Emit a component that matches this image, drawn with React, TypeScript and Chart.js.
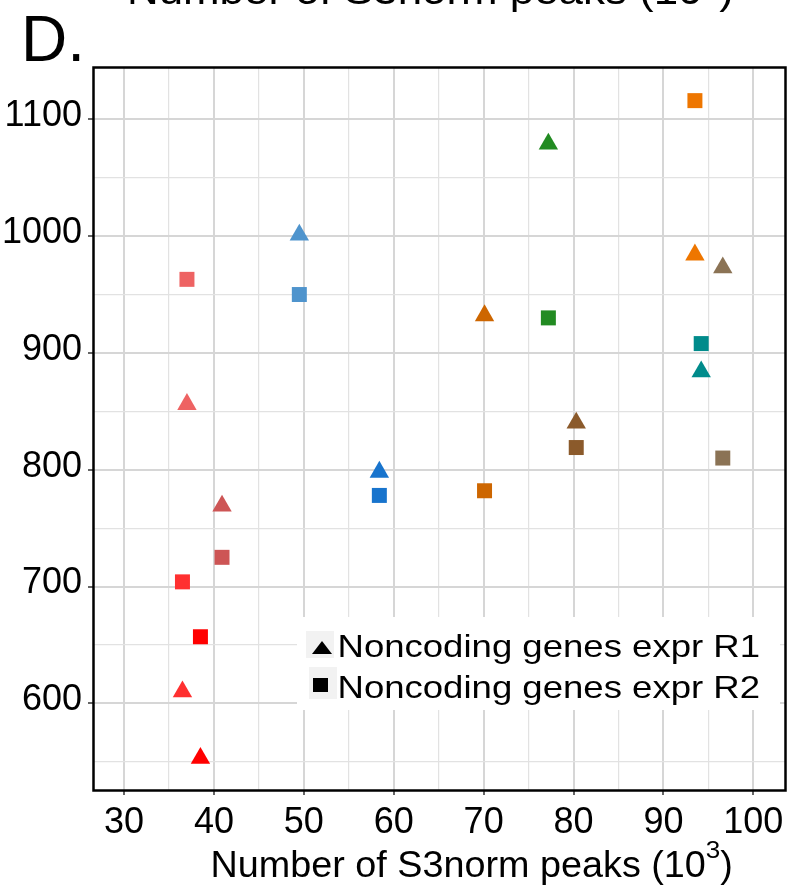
import React, { useEffect, useRef } from 'react';
import { Chart, registerables } from 'chart.js';

Chart.register(...registerables);

// ---- Data ----
const cellColors = ['#EE6363', '#CD5555', '#FF3030', '#FF0000', '#4F94CD', '#1874CD', '#CD6600', '#228B22', '#8B5A2B', '#EE7600', '#8B7355', '#008B8B'];
const peaksX = [37.0, 40.9, 36.5, 38.5, 49.5, 58.4, 70.1, 77.2, 80.3, 93.5, 96.6, 94.2];
const exprR1 = [856, 769, 610, 553, 1001, 798, 932, 1079, 840, 984, 973, 884];
const exprR2 = [963, 725, 704, 657, 950, 778, 782, 930, 819, 1116, 810, 908];

const seriesLabels = ['Noncoding genes expr R1', 'Noncoding genes expr R2'];

const xMajorTicks = [30, 40, 50, 60, 70, 80, 90, 100];
const xMinorTicks = [35, 45, 55, 65, 75, 85, 95];
const yMajorTicks = [600, 700, 800, 900, 1000, 1100];
const yMinorTicks = [550, 650, 750, 850, 950, 1050];

const titleMain = 'Number of S3norm peaks (10';
const titleSup = '3';
const titleEnd = ')';
const panelLetter = 'D.';

const FONT = "'Liberation Sans', Arial, Helvetica, sans-serif";

function drawTitle(ctx: CanvasRenderingContext2D, x: number, baseline: number, size: number, sx: number) {
  ctx.save();
  ctx.translate(x, baseline);
  ctx.scale(sx, 1);
  ctx.fillStyle = '#000';
  ctx.textBaseline = 'alphabetic';
  ctx.textAlign = 'left';
  ctx.font = `${size}px ${FONT}`;
  ctx.fillText(titleMain, 0, 0);
  let cx = ctx.measureText(titleMain).width;
  const supSize = size * 0.69;
  ctx.font = `${supSize}px ${FONT}`;
  ctx.fillText(titleSup, cx, -size * 0.53);
  cx += ctx.measureText(titleSup).width;
  ctx.font = `${size}px ${FONT}`;
  ctx.fillText(titleEnd, cx, 0);
  ctx.restore();
}

const decorPlugin = {
  id: 'decor',
  afterDatasetsDraw(chart: any) {
    const ctx: CanvasRenderingContext2D = chart.ctx;
    // legend box
    ctx.save();
    ctx.fillStyle = '#ffffff';
    ctx.fillRect(297, 617, 483, 93);
    ctx.fillStyle = '#f2f2f2';
    ctx.fillRect(306, 631, 28, 27);
    ctx.fillRect(309, 667, 28, 32);
    ctx.fillStyle = '#000';
    ctx.beginPath();
    ctx.moveTo(312, 654);
    ctx.lineTo(332, 654);
    ctx.lineTo(322, 641);
    ctx.closePath();
    ctx.fill();
    ctx.fillRect(313, 678, 15, 14);
    const labels = chart.data.datasets.map((d: any) => d.label);
    const baselines = [657, 698];
    labels.forEach((lab: string, i: number) => {
      ctx.save();
      ctx.translate(337.5, baselines[i]);
      ctx.scale(1.16, 1);
      ctx.font = `31.5px ${FONT}`;
      ctx.textBaseline = 'alphabetic';
      ctx.fillStyle = '#000';
      ctx.fillText(lab, 0, 0);
      ctx.restore();
    });
    ctx.restore();
  },
  afterDraw(chart: any) {
    const ctx: CanvasRenderingContext2D = chart.ctx;
    const { left, top, right, bottom } = chart.chartArea;
    ctx.save();
    ctx.strokeStyle = '#000';
    ctx.lineWidth = 2.5;
    ctx.strokeRect(left + 0.5, top + 0.5, right - left, bottom - top);
    // x-axis title
    drawTitle(ctx, 210.5, 877, 36, 1.049);
    // cropped title from panel above
    drawTitle(ctx, 127, 3.5, 41, 1.07);
    // panel letter
    ctx.font = `64px ${FONT}`;
    ctx.fillStyle = '#000';
    ctx.textBaseline = 'alphabetic';
    ctx.fillText(panelLetter, 21, 61);
    ctx.restore();
  },
};

const isMajorX = (v: number) => xMajorTicks.includes(v);
const isMajorY = (v: number) => yMajorTicks.includes(v);

export default function App() {
  const ref = useRef<HTMLCanvasElement>(null);
  useEffect(() => {
    if (!ref.current) return;
    const chart = new Chart(ref.current, {
      type: 'scatter',
      data: {
        datasets: [
          {
            label: seriesLabels[0],
            data: peaksX.map((x, i) => ({ x, y: exprR1[i] })),
            pointStyle: 'triangle',
            pointRadius: 11.2,
            pointHoverRadius: 11.2,
            borderWidth: 0,
            backgroundColor: cellColors,
            borderColor: cellColors,
          },
          {
            label: seriesLabels[1],
            data: peaksX.map((x, i) => ({ x, y: exprR2[i] })),
            pointStyle: 'rect',
            pointRadius: 10.6,
            pointHoverRadius: 10.6,
            borderWidth: 0,
            backgroundColor: cellColors,
            borderColor: cellColors,
          },
        ],
      },
      options: {
        animation: false,
        responsive: false,
        devicePixelRatio: 1,
        layout: { padding: { left: 0, top: 67, right: 15, bottom: 0 } },
        plugins: { legend: { display: false }, tooltip: { enabled: false } },
        scales: {
          x: {
            type: 'linear',
            min: 26.55,
            max: 103.52,
            afterBuildTicks: (s: any) => {
              s.ticks = [...xMajorTicks, ...xMinorTicks].sort((a, b) => a - b).map((v) => ({ value: v }));
            },
            afterFit: (s: any) => {
              s.height = 96;
            },
            border: { display: false },
            grid: {
              color: (c: any) => (c.tick && isMajorX(c.tick.value) ? '#d6d6d6' : '#e2e2e2'),
              lineWidth: (c: any) => (c.tick && isMajorX(c.tick.value) ? 2 : 1.2),
              drawTicks: true,
              tickLength: 5,
              tickColor: (c: any) => (c.tick && isMajorX(c.tick.value) ? '#333' : 'rgba(0,0,0,0)'),
              tickWidth: 1.5,
            },
            ticks: {
              autoSkip: false,
              maxRotation: 0,
              padding: 6,
              color: '#000',
              font: { size: 36, family: FONT },
              callback: (v: any) => (isMajorX(Number(v)) ? String(v) : ''),
            },
          },
          y: {
            type: 'linear',
            min: 525.8,
            max: 1144.8,
            afterBuildTicks: (s: any) => {
              s.ticks = [...yMajorTicks, ...yMinorTicks].sort((a, b) => a - b).map((v) => ({ value: v }));
            },
            afterFit: (s: any) => {
              s.width = 93;
            },
            border: { display: false },
            grid: {
              color: (c: any) => (c.tick && isMajorY(c.tick.value) ? '#d6d6d6' : '#e2e2e2'),
              lineWidth: (c: any) => (c.tick && isMajorY(c.tick.value) ? 2 : 1.2),
              drawTicks: true,
              tickLength: 5,
              tickColor: (c: any) => (c.tick && isMajorY(c.tick.value) ? '#333' : 'rgba(0,0,0,0)'),
              tickWidth: 1.5,
            },
            ticks: {
              autoSkip: false,
              padding: 6,
              labelOffset: -3,
              color: '#000',
              font: { size: 36, family: FONT },
              callback: (v: any) => (isMajorY(Number(v)) ? String(v) : ''),
            },
          },
        },
      },
      plugins: [decorPlugin],
    });
    return () => chart.destroy();
  }, []);
  return (
    <div style={{ position: 'absolute', left: 0, top: 0, width: 800, height: 886, background: '#fff' }}>
      <canvas ref={ref} width={800} height={886} style={{ display: 'block', width: 800, height: 886 }} />
    </div>
  );
}
